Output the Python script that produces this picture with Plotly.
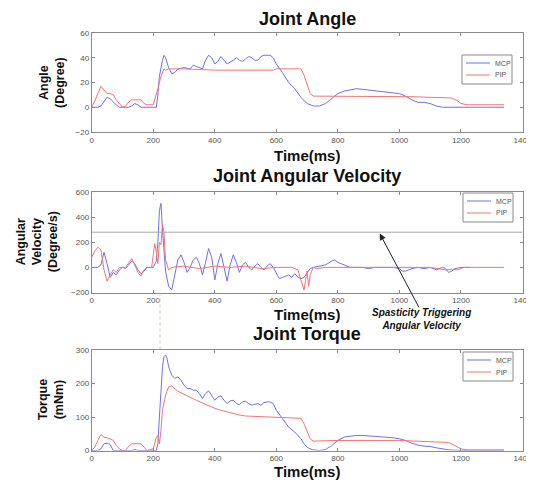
import plotly.graph_objects as go

# ---------------- data ----------------
# Joint angle (degree)
ang_mcp_t = [0, 20, 30, 40, 50, 60, 75, 90, 120, 130, 140, 150, 160, 200, 210, 215, 220, 230, 235, 240, 250, 260, 270, 280, 300, 320, 330, 340, 350, 360, 370, 380, 390, 400, 410, 420, 430, 440, 460, 470, 480, 490, 500, 510, 520, 530, 540, 550, 560, 580, 590, 600, 620, 640, 660, 680, 700, 720, 740, 760, 780, 800, 820, 840, 860, 880, 900, 920, 940, 960, 980, 1000, 1020, 1040, 1060, 1080, 1100, 1120, 1140, 1160, 1200, 1250, 1300, 1340]
ang_mcp_v = [0, 0, 1, 5, 8, 7, 3, 0, 0, 1, 3, 2, 0, 0, 0, 10, 25, 38, 42, 40, 32, 27, 28, 31, 32, 31, 34, 33, 32, 31, 38, 42, 40, 35, 37, 41, 38, 35, 38, 40, 38, 37, 39, 41, 40, 38, 38, 41, 42, 42, 40, 35, 28, 20, 15, 8, 3, 1, 1, 3, 7, 11, 13, 14, 15, 14.5, 14, 13.5, 13, 12.5, 12, 11, 9, 6, 4, 4, 3, 1, 0, 0, 0, 0, 0, 0]
ang_pip_t = [0, 10, 30, 40, 50, 60, 70, 80, 90, 100, 110, 120, 130, 140, 160, 170, 180, 200, 210, 215, 225, 235, 240, 250, 300, 400, 500, 590, 600, 620, 660, 680, 690, 700, 710, 720, 760, 780, 800, 900, 1000, 1050, 1100, 1150, 1170, 1190, 1200, 1220, 1280, 1340]
ang_pip_v = [0, 5, 17, 14, 11, 11, 10, 6, 3, 0, 1, 4, 6, 6, 6, 3, 2, 2, 10, 15, 25, 31, 30, 31, 31, 30, 30, 30, 31, 31, 31, 31, 26, 18, 11, 9, 9, 9, 9, 9, 9, 8.5, 8, 8, 7.5, 5, 3, 2, 2, 2]

# Joint angular velocity (degree/s)
vel_mcp_t = [0, 10, 20, 30, 40, 50, 60, 70, 80, 90, 100, 110, 120, 130, 140, 150, 160, 170, 180, 190, 200, 210, 215, 220, 225, 230, 235, 240, 250, 260, 270, 280, 290, 300, 310, 320, 330, 340, 350, 360, 370, 380, 390, 400, 410, 420, 430, 440, 450, 460, 470, 480, 490, 500, 510, 520, 530, 540, 550, 560, 570, 580, 590, 600, 610, 620, 630, 640, 650, 660, 670, 680, 690, 700, 710, 720, 740, 760, 780, 790, 800, 820, 840, 860, 880, 900, 920, 940, 960, 980, 1000, 1010, 1020, 1040, 1060, 1080, 1100, 1120, 1140, 1150, 1160, 1170, 1180, 1200, 1230]
vel_mcp_v = [0, 0, 0, 20, 120, 30, -80, -40, -60, -20, 0, -10, 20, 50, 30, -20, -50, -30, 0, 0, 0, 50, 200, 450, 510, 300, 100, -30, -150, -180, -60, 60, 100, 40, -40, 0, 60, 80, 30, -60, 40, 150, 80, -100, 30, 110, 0, -110, 20, 100, 40, -40, 20, 40, 0, -20, 10, 30, 0, -20, 10, 30, 0, -40, -90, -80, -70, -60, -80, -50, -80, -90, -80, -40, -10, 0, 10, 20, 50, 60, 40, 20, 0, 0, 0, -10, 0, 0, 0, 0, -10, -30, -30, -10, 0, -10, 0, -20, 0, -10, -40, -30, -10, 0, 0]
vel_pip_t = [0, 10, 20, 30, 40, 50, 60, 70, 80, 90, 110, 120, 130, 140, 150, 160, 170, 180, 195, 200, 205, 210, 215, 220, 225, 230, 235, 240, 250, 260, 300, 350, 400, 450, 500, 550, 600, 650, 670, 680, 690, 700, 705, 710, 720, 730, 760, 800, 900, 1000, 1100, 1150, 1170, 1190, 1210, 1250, 1340]
vel_pip_v = [80, 130, 160, 140, -20, -110, -60, -20, -40, 0, 0, 40, 70, 20, -40, -70, -20, 0, 0, 100, 190, 120, 30, 200, 180, 340, 280, 60, -20, 0, 10, -10, 10, 0, 10, -10, 0, 0, -20, -100, -180, -30, -150, -60, 0, -10, 0, 0, 0, 0, 0, -20, -15, -20, 0, 0, 0]
vel_threshold = 280
trigger_time = 222

# Joint torque (mNm)
trq_mcp_t = [0, 20, 30, 40, 50, 60, 70, 130, 140, 150, 210, 215, 220, 225, 230, 235, 240, 245, 250, 260, 270, 280, 290, 300, 310, 320, 330, 340, 350, 360, 370, 380, 390, 400, 410, 420, 430, 440, 450, 460, 470, 480, 490, 500, 510, 520, 530, 540, 550, 560, 570, 580, 590, 600, 620, 640, 660, 680, 690, 700, 710, 720, 740, 760, 780, 800, 820, 840, 860, 880, 900, 920, 940, 960, 980, 1000, 1020, 1040, 1060, 1080, 1100, 1120, 1140, 1160, 1180, 1200, 1300, 1340]
trq_mcp_v = [0, 0, 5, 20, 22, 18, 0, 0, 3, 0, 0, 20, 100, 180, 250, 280, 285, 275, 250, 225, 215, 220, 210, 195, 185, 185, 180, 180, 170, 155, 170, 178, 165, 150, 160, 163, 150, 140, 148, 150, 140, 137, 145, 147, 140, 135, 138, 140, 135, 143, 145, 145, 140, 120, 95, 70, 55, 35, 20, 10, 5, 2, 0, 3, 15, 30, 40, 43, 45, 45, 44, 42, 40, 40, 38, 35, 30, 22, 16, 13, 12, 8, 4, 2, 1, 0, 0, 0]
trq_pip_t = [0, 10, 20, 30, 40, 50, 60, 70, 80, 90, 100, 110, 120, 130, 160, 170, 180, 200, 210, 215, 220, 225, 230, 240, 250, 260, 270, 280, 300, 320, 340, 360, 380, 400, 420, 440, 460, 480, 500, 520, 540, 560, 600, 640, 680, 690, 700, 710, 720, 800, 1000, 1100, 1150, 1160, 1180, 1200, 1220, 1340]
trq_pip_v = [0, 10, 30, 48, 40, 38, 35, 30, 15, 5, 0, 0, 12, 20, 20, 10, 0, 5, 40, 45, 20, 60, 120, 165, 190, 193, 185, 177, 168, 158, 150, 142, 133, 126, 120, 115, 110, 106, 103, 102, 101, 100, 100, 98, 96, 80, 55, 35, 28, 30, 30, 27, 25, 24, 15, 5, 2, 2]

x_ticks = [0, 200, 400, 600, 800, 1000, 1200, 1400]
ang_ticks = [-20, 0, 20, 40, 60]
vel_ticks = [-200, 0, 200, 400, 600]
trq_ticks = [0, 100, 200, 300]
series_names = ["MCP", "PIP"]

panel_titles = ["Joint Angle", "Joint Angular Velocity", "Joint Torque"]
y_titles = ["Angle<br>(Degree)", "Angular<br>Velocity<br>(Degree/s)", "Torque<br>(mNm)"]
x_title = "Time(ms)"
note_text = "Spasticity Triggering<br>Angular Velocity"

# ---------------- style ----------------
MCP_COLOR = "#6f6ff5"
PIP_COLOR = "#f57373"
FONT = "Liberation Sans"
# page body has an 8px margin; the figure is sized so the page fills the 534x482 window
OFF = 8
W, H = 534 - OFF, 482 - OFF


def px(x):
    return (x - OFF) / W


def py(y):
    return 1 - (y - OFF) / H


xdom = [px(91.7), px(522.5)]
panels_px = [(33, 132), (192, 292.5), (350, 450.5)]
ydoms = [[py(b), py(t)] for t, b in panels_px]

fig = go.Figure()

data = [
    (ang_mcp_t, ang_mcp_v, ang_pip_t, ang_pip_v),
    (vel_mcp_t, vel_mcp_v, vel_pip_t, vel_pip_v),
    (trq_mcp_t, trq_mcp_v, trq_pip_t, trq_pip_v),
]
for i, (tm, vm, tp, vp) in enumerate(data):
    xa = "x" if i == 0 else f"x{i+1}"
    ya = "y" if i == 0 else f"y{i+1}"
    fig.add_trace(go.Scatter(x=tm, y=vm, mode="lines", name=series_names[0], xaxis=xa, yaxis=ya,
                             line=dict(color=MCP_COLOR, width=1), showlegend=False))
    fig.add_trace(go.Scatter(x=tp, y=vp, mode="lines", name=series_names[1], xaxis=xa, yaxis=ya,
                             line=dict(color=PIP_COLOR, width=1), showlegend=False))

axis_common = dict(showgrid=False, zeroline=False, showline=True, linecolor="#8a8a8a", linewidth=1,
                   mirror="ticks", ticks="inside", ticklen=3, tickcolor="#8a8a8a", automargin=False,
                   tickfont=dict(family=FONT, size=8, color="#555"))

layout = dict(width=W, height=H, margin=dict(l=0, r=0, t=0, b=0, autoexpand=False),
              paper_bgcolor="white", plot_bgcolor="white", showlegend=False)
yranges = [[-20, 60], [-200, 600], [0, 300]]
yticks = [ang_ticks, vel_ticks, trq_ticks]
for i in range(3):
    sx = "xaxis" if i == 0 else f"xaxis{i+1}"
    sy = "yaxis" if i == 0 else f"yaxis{i+1}"
    layout[sx] = dict(axis_common, domain=xdom, range=[0, 1400], tickvals=x_ticks,
                      anchor="y" if i == 0 else f"y{i+1}")
    layout[sy] = dict(axis_common, domain=ydoms[i], range=yranges[i], tickvals=yticks[i],
                      anchor="x" if i == 0 else f"x{i+1}")
fig.update_layout(**layout)

xc = (xdom[0] + xdom[1]) / 2


def note(text, x, y, size, **kw):
    opts = dict(xanchor="center", yanchor="middle", font=dict(family=FONT, size=size, color="#111"))
    opts.update(kw)
    fig.add_annotation(text=text, x=x, y=y, xref="paper", yref="paper", showarrow=False, **opts)


# panel titles
for txt, yp in zip(panel_titles, [19, 176, 334]):
    note(f"<b>{txt}</b>", xc, py(yp), 18)
# x titles
for yp in [155.5, 314, 471.5]:
    note(f"<b>{x_title}</b>", xc, py(yp), 15)
# y titles
for txt, xp, (t, b) in zip(y_titles, [51.5, 37, 51], panels_px):
    note(f"<b>{txt}</b>", px(xp), py((t + b) / 2), 12.5, textangle=-90)

# legends (drawn boxes)
leg_boxes = [(462, 55), (463, 193), (463, 352)]
for lx, ly in leg_boxes:
    fig.add_shape(type="rect", xref="paper", yref="paper", x0=px(lx), x1=px(lx + 50),
                  y0=py(ly + 29), y1=py(ly), line=dict(color="#8a8a8a", width=1), fillcolor="white")
    for k, (name, col) in enumerate(zip(series_names, [MCP_COLOR, PIP_COLOR])):
        yy = ly + 8 + k * 12
        fig.add_shape(type="line", xref="paper", yref="paper", x0=px(lx + 4), x1=px(lx + 28),
                      y0=py(yy), y1=py(yy), line=dict(color=col, width=1))
        note(name, px(lx + 31), py(yy), 7, xanchor="left",
             font=dict(family=FONT, size=7, color="#555"))

# threshold line
fig.add_shape(type="line", xref="x2", yref="y2", x0=0, x1=1400, y0=vel_threshold, y1=vel_threshold,
              line=dict(color="#a8a8a8", width=1))
# green dotted trigger line between panels
fig.add_shape(type="line", xref="x3", yref="paper", x0=trigger_time, x1=trigger_time,
              y0=ydoms[1][0], y1=ydoms[2][1], line=dict(color="#a8d8a8", width=1, dash="dot"))

# arrow + text
fig.add_annotation(x=936, y=vel_threshold - 10, xref="x2", yref="y2", ax=1066, ay=-330,
                   axref="x2", ayref="y2", text="", showarrow=True, arrowhead=2, arrowsize=1.3,
                   arrowwidth=1, arrowcolor="#222")
note(f"<b><i>{note_text}</i></b>", px(421), py(319), 10)

fig.write_html("out.html")
